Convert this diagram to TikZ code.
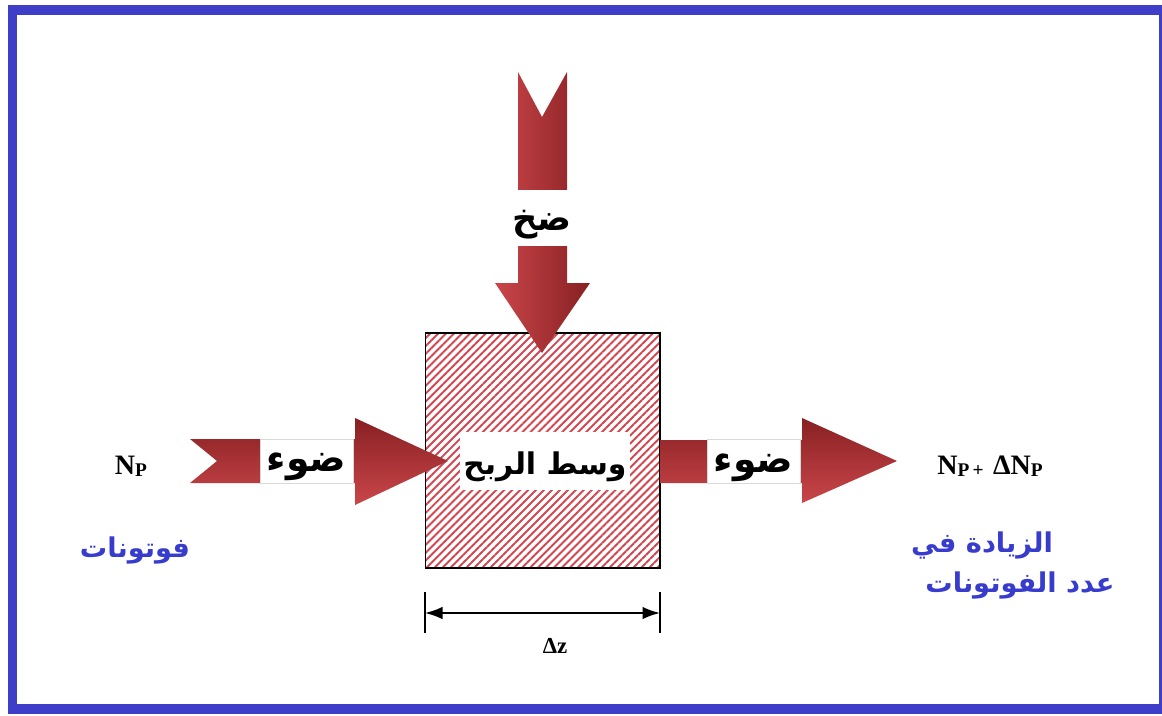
\documentclass[tikz,border=0pt]{standalone}
\usepackage{fontspec}
\setmainfont{Liberation Serif}
\newfontfamily\arabicfont[Script=Arabic]{DejaVu Sans}
\TeXXeTstate=1
\usetikzlibrary{positioning,arrows.meta,patterns.meta}
\definecolor{framebl}{RGB}{62,62,200}
\definecolor{arrdark}{RGB}{135,32,34}
\definecolor{arrlight}{RGB}{202,70,74}
\definecolor{hatchred}{RGB}{210,70,80}
\definecolor{photonbl}{RGB}{55,60,205}
\newcommand{\artxt}[1]{{\arabicfont\bfseries\beginR #1\endR}}
\newcommand{\tagtxt}[1]{\raisebox{-3.5pt}[\height][\depth]{\artxt{#1}}}
\newcommand{\subP}[1]{{\fontsize{11}{11}\selectfont\raisebox{-0.25ex}{#1}}}

\begin{document}
\begin{tikzpicture}[x=0.02cm, y=-0.02cm,
  tag/.style={fill=white, inner sep=0pt, align=center, font=\fontsize{20}{22}\selectfont},
  sym/.style={inner sep=1pt, font=\fontsize{16}{18}\selectfont\bfseries},
  blue txt/.style={inner sep=1pt, text=photonbl, align=left, font=\fontsize{15.5}{20}\selectfont},
  harrow/.style={top color=arrdark, bottom color=arrlight},
  varrow/.style={left color=arrlight, right color=arrdark}
]
  \useasboundingbox (0,0) rectangle (1162,716);
  \clip (0,0) rectangle (1162,716);
  % frame
  \draw[framebl, line width=0.2cm] (12.5,10) rectangle (1163.5,708.5);

  % gain medium
  \node[draw, line width=0.6pt, minimum width=4.7cm, minimum height=4.7cm,
    pattern={Lines[angle=45, distance=3.2pt, line width=1.1pt]}, pattern color=hatchred] (gain) at (542.5,450.5) {};

  % pump arrow
  \path[varrow] (518,72) -- (542,117) -- (567,72) -- (567,283) -- (590,283) -- (542,353)
    -- (495,283) -- (518,283) -- cycle;
  % light in
  \path[harrow] (190,439) -- (355,439) -- (355,418) -- (448,461) -- (355,505) -- (355,483)
    -- (190,483) -- (217,461) -- cycle;
  % light out
  \path[harrow] (660,440) -- (802,440) -- (802,418) -- (897,461) -- (802,503) -- (802,483)
    -- (660,483) -- cycle;

  \node[tag, minimum width=1.5cm, minimum height=1.14cm] (pump) at (542,218) {\tagtxt{ضخ}};
  \node[tag, draw=black!15, minimum width=1.86cm, minimum height=0.88cm, font=\fontsize{21.5}{22}\selectfont] (lightin) at (306.5,461) {\tagtxt{ضوء}};
  \node[tag, draw=black!15, minimum width=1.86cm, minimum height=0.88cm, font=\fontsize{21.5}{22}\selectfont] (lightout) at (753.5,461.5) {\tagtxt{ضوء}};
  \node[tag, minimum width=3.4cm, minimum height=1.16cm, font=\fontsize{17}{20}\selectfont] (medium) at (545,461) {\tagtxt{وسط الربح}};

  \node[sym] (np) at (131,466) {N\subP{P}};
  \node[sym] (npout) at (990,466) {N\subP{P\,+}\,\,ΔN\subP{P}};
  \node[blue txt] (photons) at (135,550) {\artxt{فوتونات}};
  \node[blue txt] (more) at (982,545) {\artxt{الزيادة في}};
  \node[blue txt] (count) at (1020,585) {\artxt{عدد الفوتونات}};

  % width of the medium
  \coordinate (dzl) at (425,613);
  \coordinate (dzr) at (660,613);
  \draw[line width=0.8pt] (425,592) -- (425,633) (660,592) -- (660,633);
  \draw[line width=1pt, {Latex[length=3.5mm,width=2.5mm]}-{Latex[length=3.5mm,width=2.5mm]}] (dzl) -- (dzr);
  \node[sym, font=\fontsize{13}{15}\selectfont\bfseries] (dz) at (555,646) {Δz};
\end{tikzpicture}
\end{document}
